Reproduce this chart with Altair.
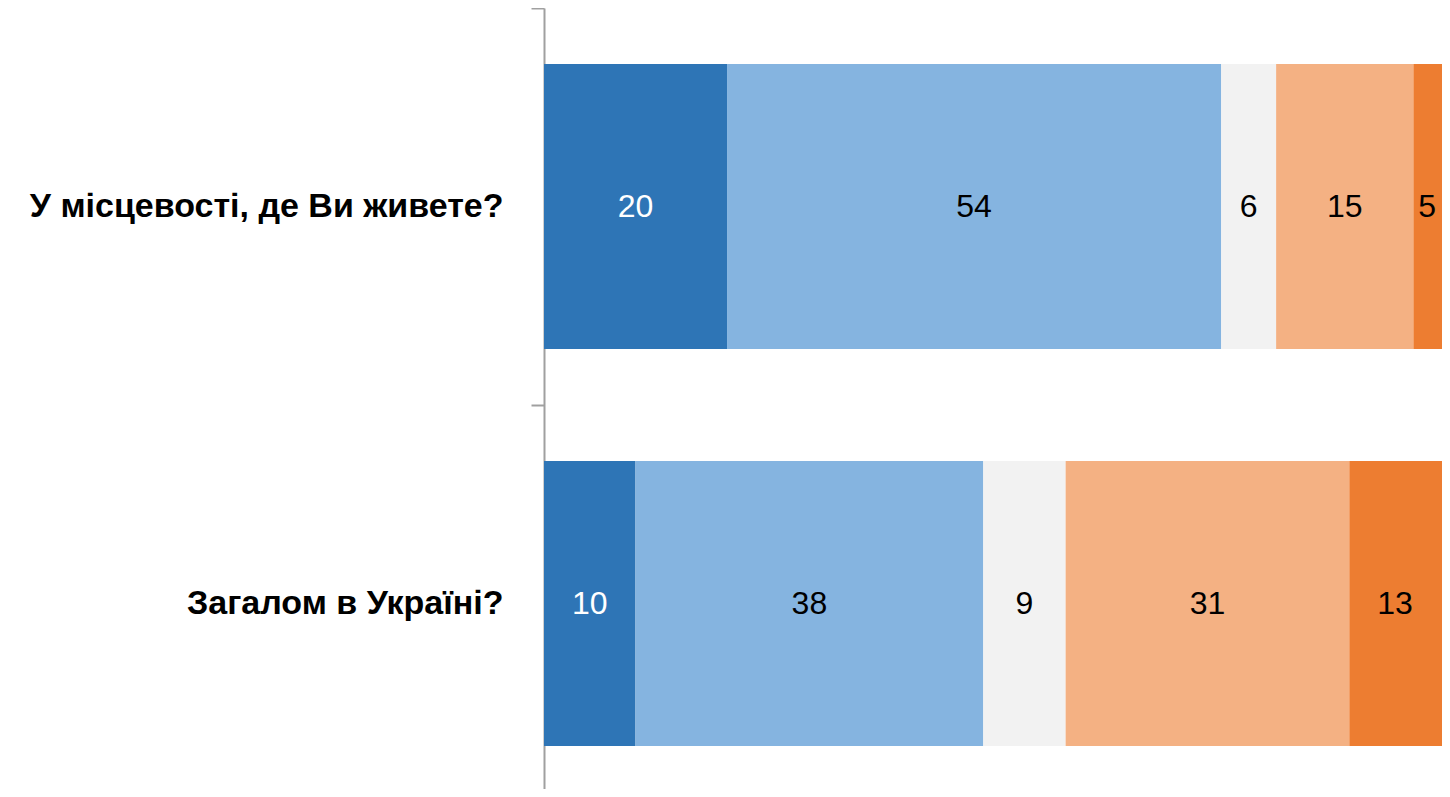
import altair as alt
import pandas as pd

questions = ["У місцевості, де Ви живете?", "Загалом в Україні?"]
responses = ["Цілком безпечно", "Скоріше безпечно", "Важко сказати", "Скоріше небезпечно", "Зовсім небезпечно"]
colors = ["#2E75B6", "#85B4E0", "#F2F2F2", "#F4B183", "#ED7D31"]
values_local = [20, 54, 6, 15, 5]
values_ukraine = [10, 38, 9, 31, 13]
x_max = 99
visible_max = 98

rows = []
for q, vals in zip(questions, [values_local, values_ukraine]):
    for i, (r, v) in enumerate(zip(responses, vals)):
        rows.append({"question": q, "response": r, "order": i, "value": v})
df = pd.DataFrame(rows)

base = alt.Chart(df).transform_stack(
    stack="value", as_=["start", "end"], groupby=["question"],
    sort=[alt.SortField("order", order="ascending")]
)

y_scale = alt.Scale(paddingInner=0, paddingOuter=0, range=[0, 794])
x_scale = alt.Scale(domain=[0, x_max], nice=False, zero=True, range=[0, 906])

y_enc = alt.Y(
    "question:N", sort=questions, title=None, scale=y_scale,
    axis=alt.Axis(
        tickBand="extent", domainColor="#A0A0A0", domainWidth=2,
        tickColor="#A0A0A0", tickWidth=2, tickSize=13, labelPadding=28,
        labelFont="Liberation Sans", labelFontSize=34, labelFontWeight="bold",
        labelColor="#000000", labelLimit=600, grid=False,
    ),
)

bars = base.mark_bar(clip=True, height=alt.RelativeBandSize(0.718)).encode(
    x=alt.X("start:Q", scale=x_scale, axis=None),
    x2="end:Q",
    y=y_enc,
    color=alt.Color("response:N", scale=alt.Scale(domain=responses, range=colors), legend=None),
)

labels = base.transform_calculate(
    mid=f"(datum.start + min(datum.end, {visible_max})) / 2"
).mark_text(
    font="Liberation Sans", fontSize=32, baseline="middle", align="center"
).encode(
    x=alt.X("mid:Q", scale=x_scale, axis=None),
    y=alt.Y("question:N", sort=questions),
    text="value:Q",
    color=alt.condition(alt.datum.order == 0, alt.value("#FFFFFF"), alt.value("#000000")),
)

chart = alt.layer(bars, labels).properties(
    width=898, height=781,
    autosize=alt.AutoSizeParams(type="none"),
    padding={"left": 536, "top": 0, "right": 0, "bottom": 0},
).configure_view(stroke=None)

chart.save("out.html", embed_options={"renderer": "svg", "actions": False})
